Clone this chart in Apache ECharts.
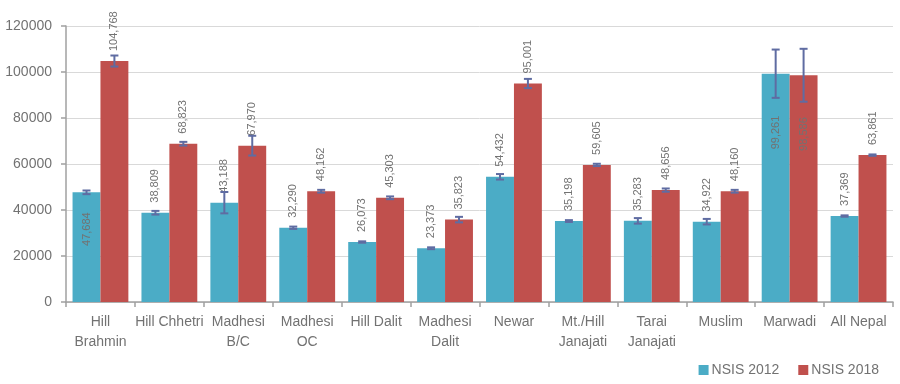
<!DOCTYPE html>
<html>
<head>
<meta charset="utf-8">
<script src="https://cdn.jsdelivr.net/npm/echarts@6/dist/echarts.min.js"></script>
<style>html,body{margin:0;padding:0;background:#fff}#c{width:900px;height:384px}</style>
</head>
<body>
<div id="c"></div>
<script>
var categories = ["Hill\nBrahmin","Hill Chhetri","Madhesi\nB/C","Madhesi\nOC","Hill Dalit","Madhesi\nDalit","Newar","Mt./Hill\nJanajati","Tarai\nJanajati","Muslim","Marwadi","All Nepal"];
var nsis2012 = [47684, 38809, 43188, 32290, 26073, 23373, 54432, 35198, 35283, 34922, 99261, 37369];
var nsis2018 = [104768, 68823, 67970, 48162, 45303, 35823, 95001, 59605, 48656, 48160, 98586, 63861];
var err2012 = [800, 800, 4650, 500, 300, 400, 1200, 400, 1200, 1200, 10500, 300];
var err2018 = [2400, 800, 4300, 600, 600, 1200, 2000, 500, 700, 600, 11500, 300];
var yTicks = [0, 20000, 40000, 60000, 80000, 100000, 120000];

var C2012 = '#4BACC6', C2018 = '#C0504D', CERR = '#5F6CA2', TXT = '#727272';
var FONT = '"Liberation Sans", Arial, sans-serif';
var GAP = 0.19;
// labels placed inside the bar (index -> distance from top)
var inside2012 = {0: 20, 10: 42};
var inside2018 = {10: 42};

function fmt(v){ return v.toLocaleString('en-US'); }
function buildBarData(vals, inside){
  return vals.map(function(v, i){
    if (inside[i] !== undefined) {
      return {value: v, label: {position: 'insideTop', align: 'right', distance: inside[i]}};
    }
    return v;
  });
}
var errData = [];
nsis2012.forEach(function(v,i){ errData.push([i, v - err2012[i], v + err2012[i], 0]); });
nsis2018.forEach(function(v,i){ errData.push([i, v - err2018[i], v + err2018[i], 1]); });

var barLabel = {
  show: true, position: 'top', rotate: 90, align: 'left', verticalAlign: 'middle',
  distance: 10, color: TXT, fontSize: 11, fontFamily: FONT,
  formatter: function(p){ return fmt(p.value); }
};

var chart = echarts.init(document.getElementById('c'));
chart.setOption({
  animation: false,
  textStyle: {fontFamily: FONT},
  grid: {left: 66, right: 7, top: 26, bottom: 82, containLabel: false},
  legend: {
    data: ['NSIS 2012', 'NSIS 2018'], right: 16, top: 358, icon: 'rect',
    itemWidth: 10, itemHeight: 10, itemGap: 19,
    textStyle: {color: TXT, fontSize: 14, fontFamily: FONT, padding: [0, 0, 0, -2]}
  },
  xAxis: {
    type: 'category', data: categories,
    axisLine: {lineStyle: {color: '#a0a0a0', width: 1.5}},
    axisTick: {show: true, length: 5, lineStyle: {color: '#a0a0a0', width: 1.5}},
    axisLabel: {color: TXT, fontSize: 14, fontFamily: FONT, lineHeight: 20, margin: 10, interval: 0}
  },
  yAxis: {
    type: 'value', min: 0, max: yTicks[yTicks.length-1], interval: yTicks[1] - yTicks[0],
    axisLine: {show: true, lineStyle: {color: '#a0a0a0', width: 1.5}},
    axisTick: {show: true, length: 5, lineStyle: {color: '#a0a0a0', width: 1.5}},
    splitLine: {lineStyle: {color: '#d9d9d9', width: 1}},
    axisLabel: {color: TXT, fontSize: 14, fontFamily: FONT, margin: 14, formatter: function(v){ return String(v); }}
  },
  series: [
    {name: 'NSIS 2012', type: 'bar', data: buildBarData(nsis2012, inside2012), barGap: '0%', barCategoryGap: (GAP*100)+'%',
     itemStyle: {color: C2012}, label: barLabel},
    {name: 'NSIS 2018', type: 'bar', data: buildBarData(nsis2018, inside2018), barGap: '0%', barCategoryGap: (GAP*100)+'%',
     itemStyle: {color: C2018}, label: barLabel},
    {type: 'custom', data: errData, z: 5, encode: {x: 0, y: [1, 2]},
     renderItem: function(params, api){
       var idx = api.value(0);
       var lo = api.coord([idx, api.value(1)]);
       var hi = api.coord([idx, api.value(2)]);
       var band = api.size([1, 0])[0];
       var bw = band * (1 - GAP) / 2;
       var x = lo[0] + (api.value(3) === 0 ? -bw/2 : bw/2);
       var cap = 4;
       var st = {stroke: CERR, lineWidth: 2};
       return {type: 'group', children: [
         {type: 'line', shape: {x1: x, y1: lo[1], x2: x, y2: hi[1]}, style: st},
         {type: 'line', shape: {x1: x-cap, y1: lo[1], x2: x+cap, y2: lo[1]}, style: st},
         {type: 'line', shape: {x1: x-cap, y1: hi[1], x2: x+cap, y2: hi[1]}, style: st}
       ]};
     }}
  ]
});
</script>
</body>
</html>
